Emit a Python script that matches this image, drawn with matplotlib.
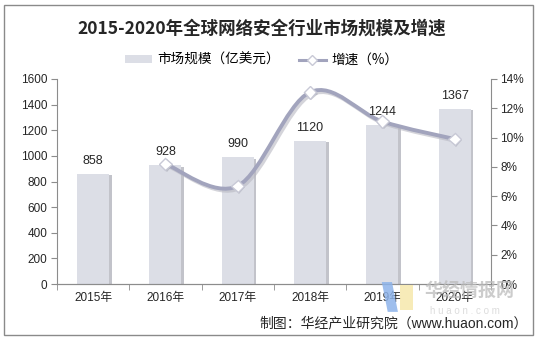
import matplotlib
matplotlib.use('Agg')
import matplotlib.pyplot as plt
import matplotlib.patheffects as pe
from matplotlib.path import Path
from matplotlib.patches import PathPatch, Rectangle, Polygon
from matplotlib.lines import Line2D
from matplotlib.ticker import FuncFormatter, MultipleLocator
import numpy as np

# ---------------- данные ----------------
years = ['2015年', '2016年', '2017年', '2018年', '2019年', '2020年']
scale = [858, 928, 990, 1120, 1244, 1367]          # 市场规模（亿美元）
growth = [None, 8.2, 6.7, 13.1, 11.1, 9.9]         # 增速（%）

TITLE = '2015-2020年全球网络安全行业市场规模及增速'
SOURCE = '制图：华经产业研究院（www.huaon.com）'

BAR_COLOR = '#dcdee6'
LINE_COLOR = '#a2a4bd'
AXIS_COLOR = '#8c8c8c'
TEXT_COLOR = '#262626'

FONT = ['Liberation Sans', 'Noto Sans CJK SC', 'DejaVu Sans']
plt.rcParams['font.family'] = FONT


def smooth_path(xs, ys):
	# кривая Катмулла-Рома через кубические Безье (как «сглаженная линия» в Excel)
	pts = list(zip(xs, ys))
	verts = [pts[0]]
	codes = [Path.MOVETO]
	n = len(pts)
	for i in range(n - 1):
		p0 = pts[i - 1] if i > 0 else pts[i]
		p1 = pts[i]
		p2 = pts[i + 1]
		p3 = pts[i + 2] if i + 2 < n else pts[i + 1]
		c1 = (p1[0] + (p2[0] - p0[0]) / 6, p1[1] + (p2[1] - p0[1]) / 6)
		c2 = (p2[0] - (p3[0] - p1[0]) / 6, p2[1] - (p3[1] - p1[1]) / 6)
		verts += [c1, c2, p2]
		codes += [Path.CURVE4] * 3
	return Path(verts, codes)


fig = plt.figure(figsize=(5.37, 3.39), dpi=100)
ax = fig.add_axes([0.106, 0.162, 0.808, 0.605])
ax2 = ax.twinx()

x = np.arange(len(years))
shadow = [pe.SimplePatchShadow(offset=(2, -1), shadow_rgbFace='#9a9ca8', alpha=0.6), pe.Normal()]
bars = ax.bar(x, scale, width=0.44, color=BAR_COLOR, zorder=2)
for b in bars:
	b.set_path_effects(shadow)

ax.set_xlim(-0.5, len(years) - 0.5)
ax.set_ylim(0, 1600)
ax.yaxis.set_major_locator(MultipleLocator(200))
ax.set_xticks(x)
ax.set_xticklabels(years)
ax.set_xticks(np.arange(-0.5, len(years)), minor=True)
ax.tick_params(axis='x', which='major', length=0, pad=6, labelsize=8.5, labelcolor=TEXT_COLOR)
ax.tick_params(axis='x', which='minor', length=4, color=AXIS_COLOR, direction='out')
ax.tick_params(axis='y', length=4, color=AXIS_COLOR, labelsize=8.5, labelcolor=TEXT_COLOR, pad=3)

# правая ось — проценты
gx = [xi for xi, g in zip(x, growth) if g is not None]
gy = [g for g in growth if g is not None]
ax2.set_ylim(0, 14)
ax2.yaxis.set_major_locator(MultipleLocator(2))
ax2.yaxis.set_major_formatter(FuncFormatter(lambda v, p: f'{v:.0f}%'))
ax2.tick_params(axis='y', length=4, color=AXIS_COLOR, labelsize=8.5, labelcolor=TEXT_COLOR, pad=3)

# подписи столбцов поверх линии
for xi, v in zip(x, scale):
	ax2.annotate(str(v), (xi, v * 14 / 1600), xytext=(0, 5), textcoords='offset points',
				 ha='center', va='bottom', fontsize=9, color=TEXT_COLOR, zorder=6)

curve = PathPatch(smooth_path(gx, gy), facecolor='none', edgecolor=LINE_COLOR,
				  lw=2.8, transform=ax2.transData, zorder=3)
curve.set_path_effects([pe.SimpleLineShadow(offset=(1.5, -1.5), shadow_color='#b8b8c2', alpha=0.6),
						pe.Normal()])
ax2.add_patch(curve)
ax2.plot(gx, gy, linestyle='none', marker='D', markersize=6.5, markerfacecolor='white',
		 markeredgecolor='#c8c9d6', markeredgewidth=1.0, zorder=4,
		 path_effects=[pe.SimplePatchShadow(offset=(1, -1), shadow_rgbFace='#9a9ca8', alpha=0.5), pe.Normal()])

for a in (ax, ax2):
	a.spines['top'].set_visible(False)
	for s in ('left', 'right', 'bottom'):
		a.spines[s].set_color(AXIS_COLOR)
		a.spines[s].set_linewidth(0.8)
ax.spines['right'].set_visible(False)
ax2.spines['left'].set_visible(False)

# заголовок и легенда
fig.text(0.487, 0.915, TITLE, ha='center', va='center', fontsize=12.6, fontweight='bold',
		 family=['Noto Sans CJK SC'], color=TEXT_COLOR)

h_bar = Rectangle((0, 0), 1, 1, facecolor=BAR_COLOR, edgecolor='none')
h_line = Line2D([], [], color=LINE_COLOR, lw=2.2, marker='D', markersize=5,
				markerfacecolor='white', markeredgecolor='#c8c9d6')
fig.legend([h_bar, h_line], ['市场规模（亿美元）', '增速（%）'], loc='center',
		   bbox_to_anchor=(0.487, 0.823), ncol=2, frameon=False,
		   handlelength=2.0, handleheight=0.5, columnspacing=1.4, handletextpad=0.4,
		   prop={'family': ['Noto Sans CJK SC'], 'size': 9.8})

# водяной знак
fig.text(0.875, 0.142, '华经情报网', ha='center', va='center', fontsize=13, fontweight='bold',
		 family=['Noto Sans CJK SC'], color='#bcbcbc', alpha=0.75)
fig.text(0.865, 0.082, 'h u a o n . c o m', ha='center', va='center', fontsize=7,
		 color='#d4d4d4', alpha=0.8)
fig.patches.append(Polygon([[0.711, 0.168], [0.730, 0.168], [0.741, 0.08], [0.722, 0.08]],
						   closed=True, transform=fig.transFigure, facecolor='#8db3ea', alpha=0.85,
						   edgecolor='none', zorder=5))
fig.patches.append(Polygon([[0.745, 0.159], [0.769, 0.159], [0.769, 0.085], [0.745, 0.085]],
						   closed=True, transform=fig.transFigure, facecolor='#f6e7a6', alpha=0.8,
						   edgecolor='none', zorder=5))

fig.text(0.983, 0.047, SOURCE, ha='right', va='center', fontsize=10, color=TEXT_COLOR)

# рамка
fig.patches.append(Rectangle((0.008, 0.012), 0.984, 0.973, transform=fig.transFigure,
							 fill=False, edgecolor='#8a8a8a', lw=1.0))

fig.savefig('out.png', dpi=100)
